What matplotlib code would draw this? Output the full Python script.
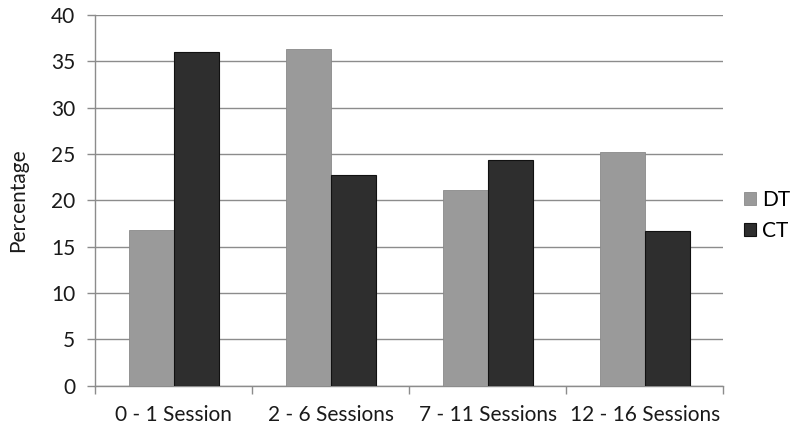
import numpy as np
import matplotlib.pyplot as plt

plt.rcParams["font.family"] = ["Lato", "DejaVu Sans"]
plt.rcParams["font.size"] = 15

categories = ["0 - 1 Session", "2 - 6 Sessions", "7 - 11 Sessions", "12 - 16 Sessions"]
dt_values = [16.8, 36.4, 21.1, 25.2]
ct_values = [36.0, 22.7, 24.4, 16.7]
series_labels = ["DT", "CT"]

fig = plt.figure(figsize=(8, 4.33), dpi=100)
ax = fig.add_axes([0.119, 0.109, 0.785, 0.856])

x = np.arange(len(categories))
w = 0.287
ax.bar(x - w / 2, dt_values, w, color="#9a9a9a", edgecolor="#8a8a8a", linewidth=0.6,
       label=series_labels[0], zorder=3)
ax.bar(x + w / 2, ct_values, w, color="#2e2e2e", edgecolor="#111111", linewidth=0.8,
       label=series_labels[1], zorder=3)

ax.set_xlim(-0.5, len(categories) - 0.5)
ax.set_ylim(0, 40)
ax.set_yticks(np.arange(0, 41, 5))
ax.yaxis.grid(True, color="#8c8c8c", linewidth=1.0, zorder=0)

# category labels between group boundary ticks
ax.set_xticks(np.arange(-0.5, len(categories), 1.0))
ax.set_xticklabels([])
ax.set_xticks(x, minor=True)
ax.set_xticklabels(categories, minor=True)
ax.tick_params(axis="x", which="minor", length=0, pad=14, colors="#1a1a1a")
ax.tick_params(axis="x", which="major", length=6, color="#8c8c8c", width=1)
ax.tick_params(axis="y", length=5.5, color="#8c8c8c", width=1, pad=9, colors="#1a1a1a")
ax.tick_params(axis="y", color="#8c8c8c")

for s in ["top", "right"]:
    ax.spines[s].set_visible(False)
for s in ["left", "bottom"]:
    ax.spines[s].set_color("#8c8c8c")
    ax.spines[s].set_linewidth(1.0)

ax.set_ylabel("Percentage", fontsize=15, labelpad=16, color="#1a1a1a")

leg = ax.legend(loc="center left", bbox_to_anchor=(1.02, 0.46), frameon=False,
                handlelength=0.55, handleheight=0.6, handletextpad=0.3,
                labelspacing=0.55, fontsize=15, borderaxespad=0.0)

fig.savefig("out.png", dpi=100)
